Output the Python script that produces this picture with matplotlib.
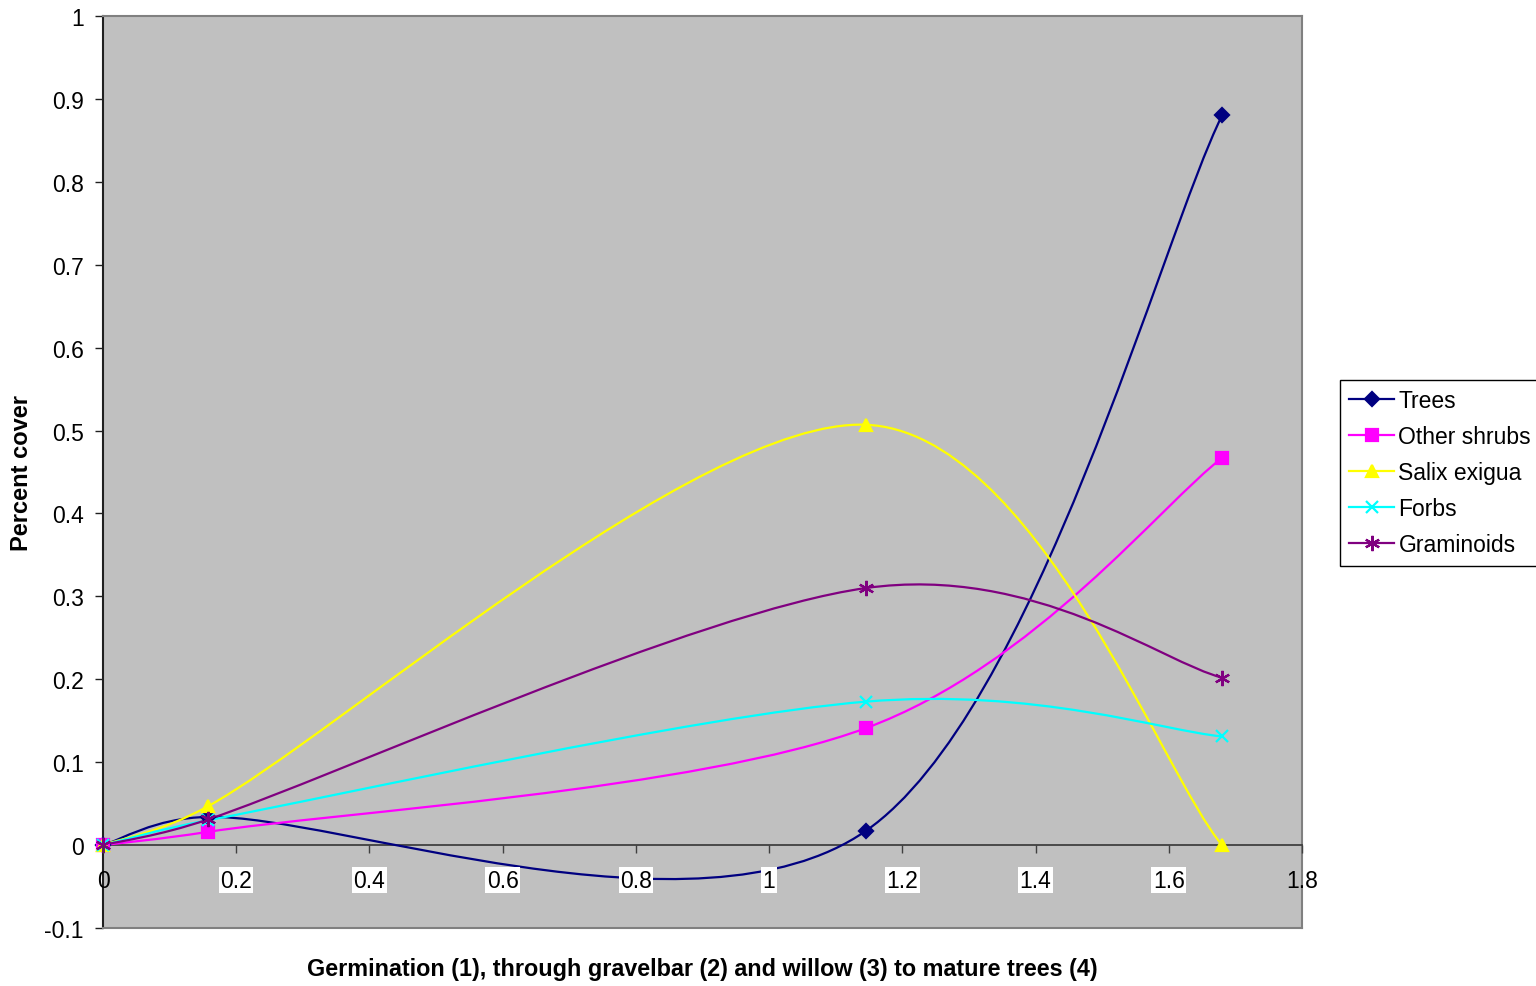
import numpy as np
import matplotlib.pyplot as plt
from matplotlib.path import Path
from matplotlib.patches import PathPatch
from matplotlib.lines import Line2D

plt.rcParams['font.family'] = ['Liberation Sans', 'DejaVu Sans']

# successional stage position (x) and percent cover per group
x_stage = [0, 0.158, 1.145, 1.68]
trees = [0, 0.034, 0.017, 0.88]
other_shrubs = [0, 0.016, 0.141, 0.467]
salix_exigua = [0, 0.047, 0.507, 0]
forbs = [0, 0.03, 0.173, 0.131]
graminoids = [0, 0.031, 0.31, 0.202]

series_names = ['Trees', 'Other shrubs', 'Salix exigua', 'Forbs', 'Graminoids']
series_values = [trees, other_shrubs, salix_exigua, forbs, graminoids]
colors = ['#000080', '#FF00FF', '#FFFF00', '#00FFFF', '#800080']
markers = ['D', 's', '^', 'x', (6, 2, 0)]
msizes = [7.5, 8, 9, 9, 11]

x_ticks = [0, 0.2, 0.4, 0.6, 0.8, 1, 1.2, 1.4, 1.6, 1.8]
y_ticks = [-0.1, 0, 0.1, 0.2, 0.3, 0.4, 0.5, 0.6, 0.7, 0.8, 0.9, 1]


def smooth_path(ax, xs, ys):
    # excel-like smoothed line: cubic bezier, handles = 1/6 of the neighbour
    # span, clamped to half the segment length (measured on screen)
    pts = np.column_stack([xs, ys]).astype(float)
    scr = ax.transData.transform(pts)
    n = len(pts)
    verts = [pts[0]]
    codes = [Path.MOVETO]
    for i in range(n - 1):
        a, b = max(i - 1, 0), min(i + 2, n - 1)
        seg = np.hypot(*(scr[i + 1] - scr[i]))
        span1 = np.hypot(*(scr[i + 1] - scr[a]))
        span2 = np.hypot(*(scr[b] - scr[i]))
        f1 = min(1 / 6, seg / (2 * span1)) if span1 > 0 else 0
        f2 = min(1 / 6, seg / (2 * span2)) if span2 > 0 else 0
        c1 = pts[i] + (pts[i + 1] - pts[a]) * f1
        c2 = pts[i + 1] - (pts[b] - pts[i]) * f2
        verts += [c1, c2, pts[i + 1]]
        codes += [Path.CURVE4] * 3
    return Path(verts, codes)


fig = plt.figure(figsize=(15.36, 9.87), dpi=100)
ax = fig.add_axes([103 / 1536, 58 / 987, 1199 / 1536, 912 / 987])
ax.set_facecolor('#C0C0C0')
ax.set_xlim(0, 1.8)
ax.set_ylim(-0.1, 1)

for vals, c in zip(series_values, colors):
    ax.add_patch(PathPatch(smooth_path(ax, x_stage, vals), facecolor='none',
                           edgecolor=c, lw=1.6, zorder=3))
for vals, c, m, ms in zip(series_values, colors, markers, msizes):
    ax.plot(x_stage, vals, linestyle='none', marker=m, color=c, ms=ms,
            mew=1.6, zorder=4, clip_on=False)

# spines: axis lines dark, plot area border grey
ax.spines['left'].set_color('#202020')
ax.spines['left'].set_linewidth(1.5)
ax.spines['bottom'].set_position(('data', 0))
ax.spines['bottom'].set_color('#404040')
ax.spines['bottom'].set_linewidth(1.3)
for s in ['top', 'right']:
    ax.spines[s].set_color('#808080')
    ax.spines[s].set_linewidth(1.5)
ax.plot([0, 1], [0, 0], transform=ax.transAxes, color='#808080', lw=1.5,
        clip_on=False, zorder=2.6)

ax.set_xticks(x_ticks)
ax.set_xticklabels([f'{v:g}' for v in x_ticks])
ax.set_yticks(y_ticks)
ax.set_yticklabels([f'{v:g}' for v in y_ticks])
ax.tick_params(axis='x', direction='out', length=6, width=1, pad=11,
               labelsize=16.5, color='#404040')
ax.tick_params(axis='y', direction='out', length=6, width=1, pad=8,
               labelsize=16.5, color='#202020')
ax.xaxis.set_zorder(5)
for lab in ax.get_xticklabels()[1:-1]:
    lab.set_bbox(dict(facecolor='white', edgecolor='none', pad=1))

fig.text(22 / 1536, 1 - 473 / 987, 'Percent cover', rotation=90,
         ha='center', va='center', fontsize=17, fontweight='bold')
fig.text(702 / 1536, 1 - 970 / 987,
         'Germination (1), through gravelbar (2) and willow (3) to mature trees (4)',
         ha='center', va='center', fontsize=16.8, fontweight='bold')

handles = [Line2D([], [], color=c, marker=m, ms=ms, mew=1.6, lw=1.6)
           for c, m, ms in zip(colors, markers, msizes)]
leg = fig.legend(handles, series_names, loc='upper left',
                 bbox_to_anchor=(1340 / 1536, 1 - 381 / 987), borderaxespad=0,
                 fontsize=16.5, frameon=True, fancybox=False, framealpha=1,
                 edgecolor='black', handlelength=1.95, handletextpad=0.2,
                 labelspacing=0.57, borderpad=0.4)
leg.get_frame().set_linewidth(1.0)

fig.savefig('out.png', dpi=100)
